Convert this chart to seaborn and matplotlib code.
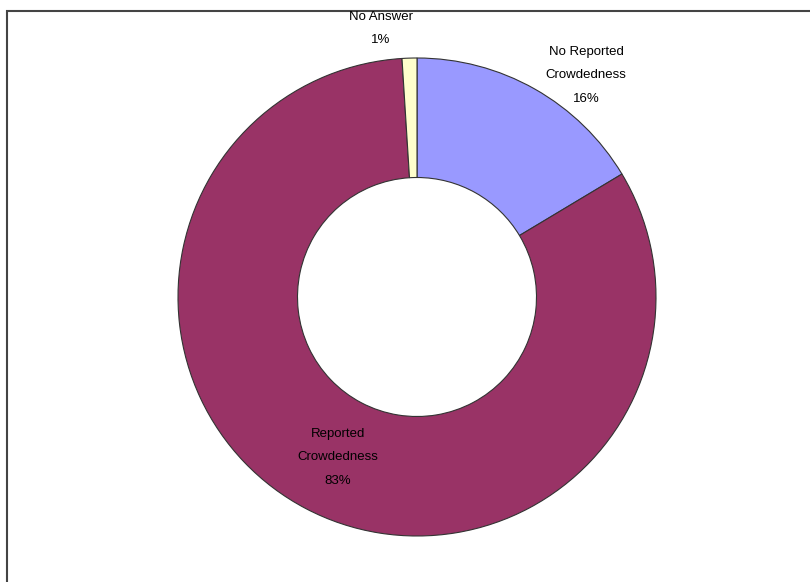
import matplotlib
matplotlib.use("Agg")
import matplotlib.pyplot as plt
import seaborn as sns
from matplotlib.patches import Rectangle

categories = ["No Reported\nCrowdedness", "Reported\nCrowdedness", "No Answer"]
values = [16.4, 82.6, 1.0]
colors = ["#9999FF", "#993366", "#FFFFCC"]

sns.set_theme(style="white")
plt.rcParams['font.family'] = ['Liberation Sans', 'DejaVu Sans']

W, H = 810, 582
fig = plt.figure(figsize=(W / 100, H / 100), dpi=100)
cx, cy, R = 417, 297, 239
ax = fig.add_axes([0, 0, 1, 1])
ax.pie(values, colors=colors, startangle=90, counterclock=False,
       radius=1.0, center=(0, 0),
       wedgeprops=dict(width=0.5, edgecolor="#333333", linewidth=0.8))
ax.set_xlim((0 - cx) / R, (W - cx) / R)
ax.set_ylim((cy - H) / R, (cy - 0) / R)
ax.set_aspect("equal")
ax.axis("off")

# labels (positions in pixel coords)
label_pos = [(586, 75.5), (338, 457.5), (381, 28.5)]
spacings = [2.3, 2.3, 2.15]
for cat, v, (px, py), ls in zip(categories, values, label_pos, spacings):
    fig.text(px / W, 1 - py / H, f"{cat}\n{round(v)}%", ha="center", va="center",
             fontsize=9.5, linespacing=ls, color="black")

# frame
fig.patches.append(Rectangle((7 / W, -0.05), 1.1, 1 - 11 / H + 0.05,
                             transform=fig.transFigure, fill=False,
                             edgecolor="#444444", linewidth=1.5))

fig.savefig("out.png", dpi=100)
